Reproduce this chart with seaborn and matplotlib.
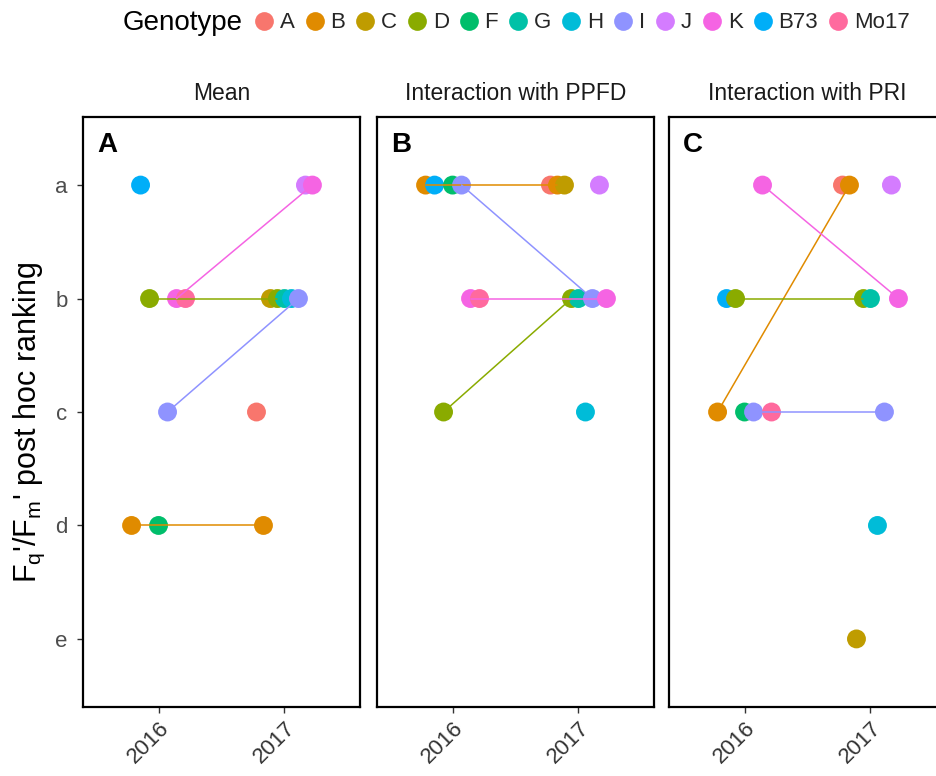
import numpy as np
import pandas as pd
import seaborn as sns
import matplotlib.pyplot as plt
from matplotlib.lines import Line2D

sns.set_theme(style="white")
plt.rcParams["font.family"] = ["Liberation Sans", "DejaVu Sans"]
plt.rcParams["mathtext.fontset"] = "custom"
plt.rcParams["mathtext.rm"] = "Liberation Sans"

# ---- data -------------------------------------------------------------
genotypes = ["A", "B", "C", "D", "F", "G", "H", "I", "J", "K", "B73", "Mo17"]
geno_colors = ["#F8766D", "#E08B00", "#BF9C00", "#8AAB00", "#00BE6B", "#00C1A7",
               "#00BCD8", "#8F93FF", "#D47CFF", "#F564E3", "#00AEF8", "#FF6A9E"]

years = ["2016", "2017"]
rank_levels = ["a", "b", "c", "d", "e"]

# genotypes scored in each year (sorted, as used for dodging)
geno_2016 = ["B", "B73", "D", "F", "I", "K", "Mo17"]
geno_2017 = ["A", "B", "C", "D", "G", "H", "I", "J", "K"]

panel_titles = ["Mean", "Interaction with PPFD", "Interaction with PRI"]
panel_tags = ["A", "B", "C"]

mean_2016 = ["d", "a", "b", "d", "c", "b", "b"]
mean_2017 = ["c", "d", "b", "b", "b", "b", "b", "a", "a"]
ppfd_2016 = ["a", "a", "c", "a", "a", "b", "b"]
ppfd_2017 = ["a", "a", "a", "b", "b", "c", "b", "a", "b"]
pri_2016 = ["c", "b", "b", "c", "c", "a", "c"]
pri_2017 = ["a", "a", "e", "b", "b", "d", "c", "a", "b"]

ranks_by_panel = [(mean_2016, mean_2017), (ppfd_2016, ppfd_2017), (pri_2016, pri_2017)]

palette = dict(zip(genotypes, geno_colors))
DODGE = 0.5


def dodge_offsets(n):
    return (np.arange(n) - (n - 1) / 2) * DODGE / n


rows = []
for title, (r16, r17) in zip(panel_titles, ranks_by_panel):
    for yi, (genos, ranks) in enumerate([(geno_2016, r16), (geno_2017, r17)]):
        offs = dodge_offsets(len(genos))
        for g, r, o in zip(genos, ranks, offs):
            rows.append({"panel": title, "Year": years[yi], "Genotype": g,
                         "rank": r, "xpos": yi + o,
                         "ypos": rank_levels.index(r)})
df = pd.DataFrame(rows)
both_years = [g for g in geno_2016 if g in geno_2017]

# ---- figure -----------------------------------------------------------
W, H = 936, 776
fig = plt.figure(figsize=(W / 100, H / 100), dpi=100)

panel_left = [83, 377, 669]
panel_w, panel_top, panel_bottom = 277, 117, 707

for i, (title, tag) in enumerate(zip(panel_titles, panel_tags)):
    ax = fig.add_axes([panel_left[i] / W, 1 - panel_bottom / H,
                       panel_w / W, (panel_bottom - panel_top) / H])
    sub = df[df["panel"] == title]
    sns.scatterplot(data=sub, x="xpos", y="ypos", hue="Genotype", palette=palette,
                    s=185, linewidth=0, legend=False, ax=ax, zorder=2)
    sns.lineplot(data=sub[sub["Genotype"].isin(both_years)], x="xpos", y="ypos",
                 hue="Genotype", palette=palette, estimator=None, lw=1.1,
                 legend=False, ax=ax, zorder=3)
    ax.set_xlim(-0.6, 1.6)
    ax.set_ylim(4.6, -0.6)
    ax.set_xticks([0, 1])
    ax.set_xticklabels(years, rotation=45, ha="right", va="top",
                       rotation_mode="anchor")
    if i == 0:
        ax.set_yticks(range(len(rank_levels)))
        ax.set_yticklabels(rank_levels)
        ax.set_ylabel(r"F$_{\mathregular{q}}$'/F$_{\mathregular{m}}$' post hoc ranking",
                      fontsize=22, color="#000000")
        ax.yaxis.set_label_coords(-0.13, 0.483)
    else:
        ax.set_yticks([])
        ax.set_ylabel("")
    ax.set_xlabel("")
    ax.tick_params(axis="both", direction="out", length=4.5, width=1,
                   color="#333333", labelsize=16, left=(i == 0), bottom=True)
    ax.tick_params(axis="x", pad=3, labelcolor="#333333")
    ax.tick_params(axis="y", pad=6.5, labelcolor="#4D4D4D")
    for sp in ax.spines.values():
        sp.set_visible(True)
        sp.set_color("black")
        sp.set_linewidth(1.6)
    ax.set_title(title, fontsize=16.5, color="#1A1A1A", pad=12)
    ax.text(0.05, 0.975, tag, transform=ax.transAxes, fontsize=20,
            fontweight="bold", ha="left", va="top", color="black")

# ---- legend -----------------------------------------------------------
fig.text(123 / W, 1 - 23 / H, "Genotype", fontsize=20, ha="left", va="center",
         color="#000000")
handles = [Line2D([], [], marker="o", ls="", ms=13.5, mfc=palette[g],
                  mec=palette[g], mew=0) for g in genotypes]
fig.legend(handles, genotypes, loc="center left",
           bbox_to_anchor=(254 / W, 1 - 23 / H), ncol=len(genotypes),
           frameon=False, fontsize=16, handlelength=0.9, handletextpad=0.25,
           columnspacing=0.46, borderpad=0, borderaxespad=0)

fig.savefig("out.png", dpi=100)
